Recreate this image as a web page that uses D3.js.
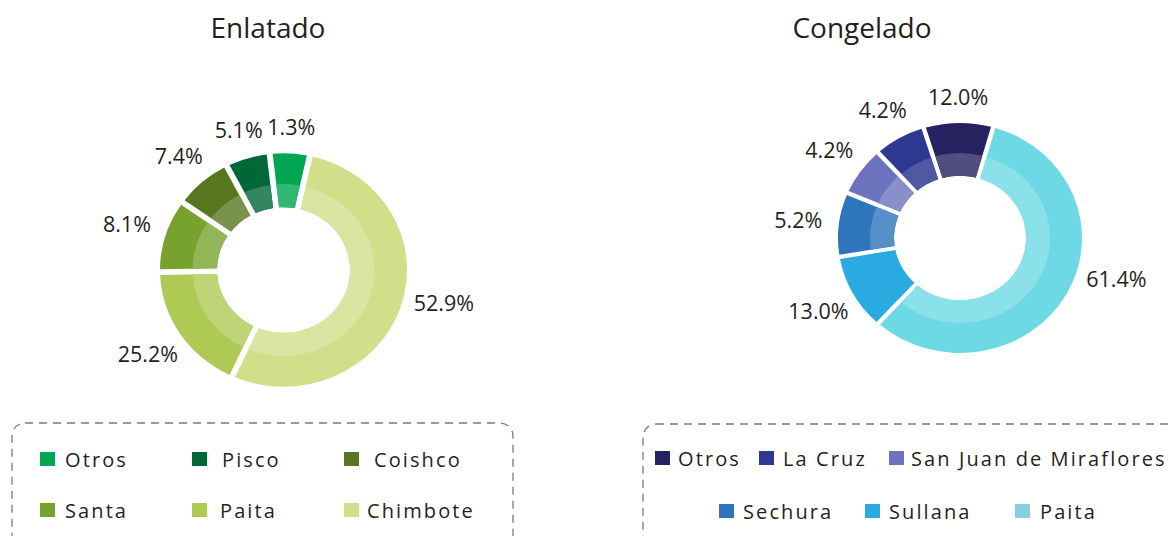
<!DOCTYPE html>
<html>
<head>
<meta charset="utf-8">
<script src="https://cdn.jsdelivr.net/npm/d3@7"></script>
<style>
  body { margin: 0; background: #fff; }
  svg { display: block; font-family: "Open Sans", "Noto Sans", sans-serif; }
</style>
</head>
<body>
<svg width="1173" height="536"></svg>
<script>
// Enlatado - clockwise from the top right
var enlatadoNames = ["Chimbote", "Paita", "Santa", "Coishco", "Pisco", "Otros"];
var enlatadoLabels = ["52.9%", "25.2%", "8.1%", "7.4%", "5.1%", "1.3%"];
// share of the ring as it is drawn in the picture (percent)
var enlatadoArc = [53.4, 17.9, 10.1, 7.6, 5.8, 5.2];
var enlatadoColors = ["#cfdf8a", "#aec954", "#77a22d", "#58771f", "#006837", "#00a651"];
var enlatadoLegend = ["Otros", "Pisco", "Coishco", "Santa", "Paita", "Chimbote"];
var enlatadoLegendColors = ["#00a651", "#006837", "#58771f", "#77a22d", "#aec954", "#cfdf8a"];

// Congelado
var congeladoNames = ["Paita", "Sullana", "Sechura", "San Juan de Miraflores", "La Cruz", "Otros"];
var congeladoLabels = ["61.4%", "13.0%", "5.2%", "4.2%", "4.2%", "12.0%"];
var congeladoArc = [57.3, 10.7, 9.0, 6.9, 6.9, 9.2];
var congeladoColors = ["#6dd9e4", "#29abe2", "#2f75bb", "#6a73bc", "#2e3890", "#26225f"];
var congeladoInner = ["#8be1e9", "#29abe2", "#5590c9", "#8890c9", "#5158a2", "#514e7f"];
var congeladoLegend = ["Otros", "La Cruz", "San Juan de Miraflores", "Sechura", "Sullana", "Paita"];
var congeladoLegendColors = ["#26225f", "#2e3890", "#6a73bc", "#2f75bb", "#29abe2", "#87cfe2"];

var svg = d3.select("svg");
var textColor = "#231f20";

function donut(opt) {
  var g = svg.append("g").attr("transform", "translate(" + opt.cx + "," + opt.cy + ")");
  var ring = g.append("g").attr("transform", "scale(1," + opt.sy + ")");

  var pie = d3.pie().sort(null).value(function(d) { return d; })
      .startAngle(opt.start * Math.PI / 180)
      .endAngle(opt.start * Math.PI / 180 + 2 * Math.PI);
  var arcs = pie(opt.values);

  var outer = d3.arc().innerRadius(opt.r0).outerRadius(opt.r1)
      .padAngle(opt.gap / opt.r1).padRadius(opt.r1);
  var inner = d3.arc().innerRadius(opt.r0).outerRadius(opt.rb)
      .padAngle(opt.gap / opt.r1).padRadius(opt.r1);

  ring.selectAll("path.o").data(arcs).enter().append("path")
      .attr("class", "o")
      .attr("d", outer)
      .attr("fill", function(d, i) { return opt.colors[i]; });

  ring.selectAll("path.i").data(arcs).enter().append("path")
      .attr("class", "i")
      .attr("d", inner)
      .attr("fill", function(d, i) {
        return opt.inner ? opt.inner[i] : d3.interpolateRgb(opt.colors[i], "#fff")(0.2);
      });

  g.selectAll("text").data(arcs).enter().append("text")
      .attr("text-anchor", "middle")
      .attr("dy", "0.36em")
      .attr("font-size", 21.5)
      .attr("fill", textColor)
      .attr("x", function(d) { return labelPos(d)[0]; })
      .attr("y", function(d) { return labelPos(d)[1]; })
      .text(function(d, i) { return opt.labels[i]; });

  function labelPos(d) {
    var a = Math.min((d.startAngle + d.endAngle) / 2, d.startAngle + Math.PI / 2);
    var r = opt.r1 + 27 + 14 * Math.abs(Math.sin(a));
    return [r * Math.sin(a), -r * Math.cos(a) * opt.sy];
  }

  svg.append("text")
      .attr("x", opt.tx).attr("y", 38)
      .attr("text-anchor", "middle")
      .attr("font-size", 28)
      .attr("fill", textColor)
      .text(opt.title);
}

donut({ cx: 283.5, cy: 270, sy: 0.945, r0: 66.5, rb: 91, r1: 123.5, gap: 6, start: 12.3,
  values: enlatadoArc, colors: enlatadoColors, labels: enlatadoLabels, title: "Enlatado", tx: 268 });

donut({ cx: 960, cy: 238, sy: 0.943, r0: 66, rb: 90, r1: 122, gap: 4.5, start: 15.8,
  values: congeladoArc, colors: congeladoColors, inner: congeladoInner, labels: congeladoLabels,
  title: "Congelado", tx: 862 });

function legend(opt) {
  var g = svg.append("g");
  g.append("rect")
      .attr("x", opt.x).attr("y", opt.y)
      .attr("width", opt.w).attr("height", 140)
      .attr("rx", 13).attr("ry", 13)
      .attr("fill", "none")
      .attr("stroke", "#7a7a7a")
      .attr("stroke-width", 1.3)
      .attr("stroke-dasharray", "8,6");

  var items = g.selectAll("g.item").data(opt.names).enter().append("g")
      .attr("class", "item")
      .attr("transform", function(d, i) {
        return "translate(" + opt.pos[i][0] + "," + opt.pos[i][1] + ")";
      });
  items.append("rect")
      .attr("x", 0).attr("y", -15)
      .attr("width", 15).attr("height", 14)
      .attr("fill", function(d, i) { return opt.colors[i]; });
  items.append("text")
      .attr("x", function(d, i) { return opt.pos[i][2]; })
      .attr("y", 0)
      .attr("font-size", 20)
      .attr("letter-spacing", 2.1)
      .attr("fill", textColor)
      .text(function(d) { return d; });
}

legend({ x: 12, y: 423, w: 501, names: enlatadoLegend, colors: enlatadoLegendColors,
  pos: [[40, 467, 25], [192, 467, 30], [344, 467, 30], [40, 518, 25], [192, 518, 28], [344, 518, 23]] });

legend({ x: 643, y: 424, w: 600, names: congeladoLegend, colors: congeladoLegendColors,
  pos: [[655, 466, 23], [759, 466, 24], [889, 466, 22], [719, 519, 24], [865, 519, 24], [1015, 519, 25]] });
</script>
</body>
</html>
